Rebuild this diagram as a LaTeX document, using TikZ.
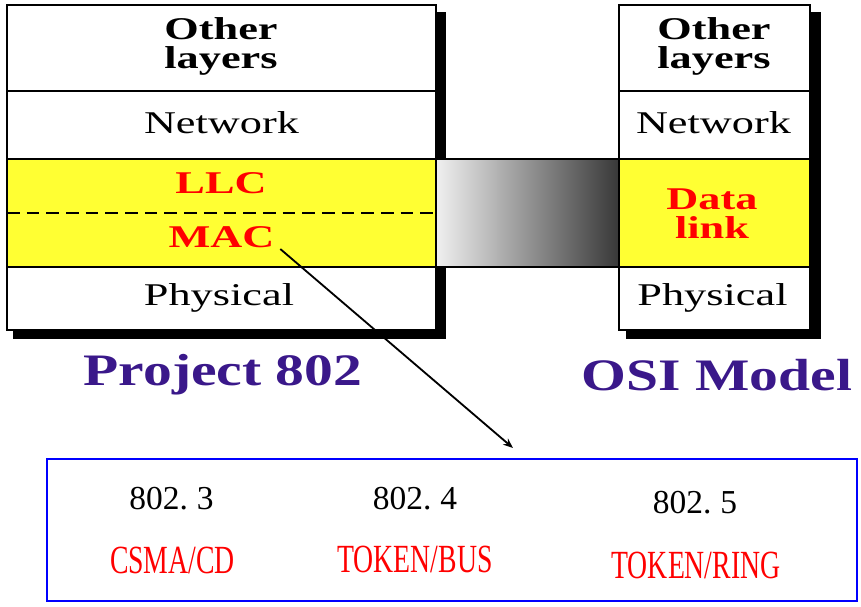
\documentclass[tikz,border=0pt]{standalone}
\usepackage{fontspec}
\setmainfont{Liberation Serif}
\usepackage{graphicx}
\usepackage{xcolor}
\usetikzlibrary{arrows.meta}

\definecolor{layeryellow}{RGB}{255,255,51}
\definecolor{titlepurple}{RGB}{58,24,138}
\definecolor{stdblue}{RGB}{0,0,255}

\newcommand{\wide}[1]{\scalebox{1.4}[1]{#1}}
\newcommand{\titlewide}[1]{\scalebox{1.28}[1]{#1}}
\newcommand{\narrowname}[1]{\scalebox{0.75}[1.08]{#1}}
\newcommand{\stdno}[1]{802.\hspace{0.27em}#1}

\tikzset{
    layertext/.style={inner sep=1pt, align=center, font=\fontsize{22.5}{20.6}\selectfont},
    layerbold/.style={inner sep=1pt, align=center, font=\fontsize{22.5}{20.6}\selectfont\bfseries},
    titletext/.style={inner sep=1pt, text=titlepurple, font=\fontsize{32}{36}\selectfont\bfseries},
    stdnum/.style={inner sep=1pt, font=\fontsize{23.8}{26}\selectfont},
    stdname/.style={inner sep=1pt, text=red, font=\fontsize{26.3}{28}\selectfont}
}

\begin{document}
\begin{tikzpicture}[x=0.025cm,y=-0.025cm]
    \useasboundingbox (0,0) rectangle (861,606);

    % Drop shadows of the two stacks
    \fill[black] (13,12) rectangle (446,339);
    \fill[black] (626,12) rectangle (821,339);

    % Shaded bridge between the data link layers
    \shade[left color=gray!12, right color=black!78] (436,159) rectangle (619,267);
    \draw[line width=1.2pt] (436,159) -- (619,159) (436,267) -- (619,267);

    % Layer stacks
    \foreach \l/\r in {7/436,619/810} {
        \fill[white] (\l,5) rectangle (\r,330);
        \fill[layeryellow] (\l,159) rectangle (\r,267);
        \foreach \y in {91,159,267}
            \draw[line width=1.2pt] (\l,\y) -- (\r,\y);
        \draw[line width=1.4pt] (\l,5) rectangle (\r,330);
    }

    % LLC / MAC split
    \draw[line width=1.6pt, dash pattern=on 9pt off 5pt] (7,213) -- (436,213);

    % Project 802 layers
    \node[layerbold] (p802other) at (221,46) {\wide{Other}\\\wide{layers}};
    \node[layertext, anchor=base] (p802net) at (221.5,133) {\wide{Network}};
    \node[layerbold, text=red, anchor=base] (llc) at (221,193) {\wide{LLC}};
    \node[layerbold, text=red, anchor=base] (mac) at (221.5,247) {\wide{MAC}};
    \node[layertext, anchor=base] (p802phy) at (219,305) {\wide{Physical}};

    % OSI layers
    \node[layerbold] (osiother) at (714,46) {\wide{Other}\\\wide{layers}};
    \node[layertext, anchor=base] (osinet) at (713.5,133) {\wide{Network}};
    \node[layerbold, text=red] (datalink) at (712,214) {\wide{Data}\\\wide{link}};
    \node[layertext, anchor=base] (osiphy) at (712.5,305) {\wide{Physical}};

    % Titles
    \node[titletext, anchor=base] (p802title) at (223,385) {\titlewide{Project 802}};
    \node[titletext, anchor=base] (osititle) at (717,390) {\titlewide{OSI Model}};

    % IEEE 802 standards box
    \draw[stdblue, line width=1.2pt] (47,459) rectangle (857,601);
    \node[stdnum, anchor=base] (std3) at (171.5,509) {\stdno{3}};
    \node[stdnum, anchor=base] (std4) at (415,509) {\stdno{4}};
    \node[stdnum, anchor=base] (std5) at (695,513) {\stdno{5}};
    \node[stdname, anchor=base] (csma) at (172.5,573) {\narrowname{CSMA/CD}};
    \node[stdname, anchor=base] (tokbus) at (415,572) {\narrowname{TOKEN/BUS}};
    \node[stdname, anchor=base] (tokring) at (696,578) {\narrowname{TOKEN/RING}};

    % MAC expands into the standards
    \coordinate (boxentry) at (513,448);
    \draw[line width=1.3pt, -{Stealth[length=7pt,width=5.5pt]}] ([xshift=3pt]mac.south east) -- (boxentry);
\end{tikzpicture}
\end{document}
